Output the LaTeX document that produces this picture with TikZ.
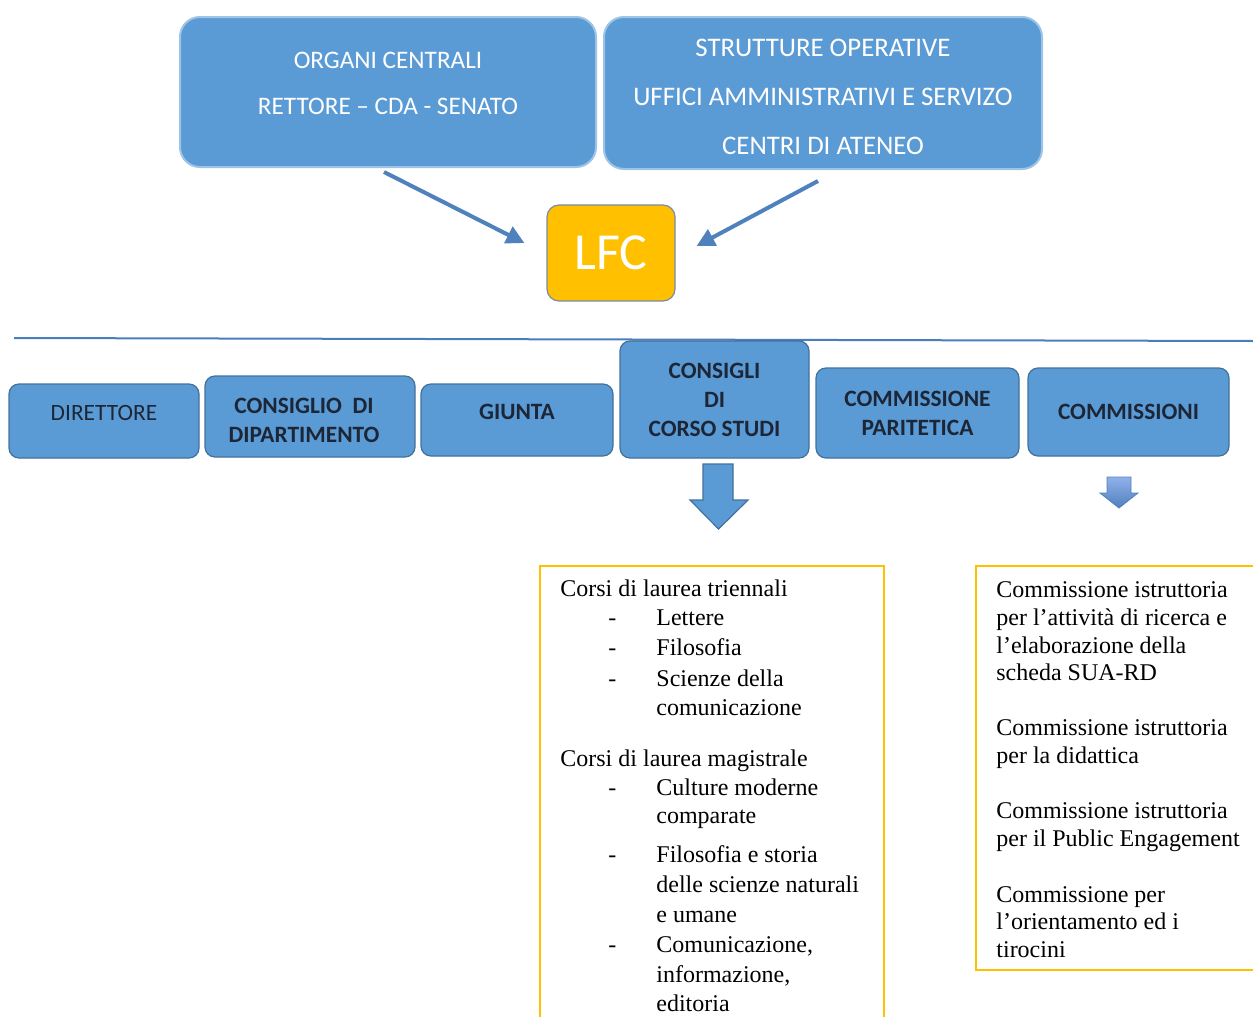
\documentclass[tikz,border=0pt]{standalone}
\usepackage{fontspec}
\setmainfont{Liberation Serif}
\newfontfamily\calibri{Carlito}
\usetikzlibrary{arrows.meta,calc}

\definecolor{boxblue}{HTML}{5B9BD5}
\definecolor{boxedge}{HTML}{41719C}
\definecolor{topedge}{HTML}{9DC3E6}
\definecolor{arrowblue}{HTML}{4F81BD}
\definecolor{lfcgold}{HTML}{FFC000}
\definecolor{lfcedge}{HTML}{7A8BA3}
\definecolor{darktext}{HTML}{1C2636}
\definecolor{lineblue}{HTML}{4A7EBB}

\tikzset{
  topbox/.style={draw=topedge, fill=boxblue, line width=1pt, rounded corners=10pt, inner sep=0pt},
  toptext/.style={text=white, inner sep=0pt, font=\calibri\fontsize{13.4}{16}\selectfont},
  unitbox/.style={draw=boxedge, fill=boxblue, line width=0.6pt, rounded corners=5pt, inner sep=0pt,
    align=center, text=darktext, font=\calibri\bfseries\fontsize{11.7}{14.5}\selectfont},
  linkarrow/.style={arrowblue, line width=2pt, -{Triangle[length=9pt,width=9pt]}},
  bodytext/.style={anchor=base west, inner sep=0pt, font=\fontsize{12}{13.8}\selectfont},
}

\begin{document}
\begin{tikzpicture}[x=0.5pt, y=-0.5pt]
    \useasboundingbox (0,0) rectangle (1253,1017);

    % organi centrali e strutture
    \node[topbox, minimum width=208pt, minimum height=75pt] (organi) at (388,92) {};
    \node[toptext, font=\calibri\fontsize{12.6}{16}\selectfont] (organi-1) at (388,60) {ORGANI CENTRALI};
    \node[toptext, font=\calibri\fontsize{12.6}{16}\selectfont] (organi-2) at (388,106) {RETTORE – CDA - SENATO};

    \node[topbox, minimum width=219pt, minimum height=76pt] (strutture) at (823,93) {};
    \node[toptext] (strutture-1) at (823,48) {STRUTTURE OPERATIVE};
    \node[toptext] (strutture-2) at (823,97) {UFFICI AMMINISTRATIVI E SERVIZO};
    \node[toptext] (strutture-3) at (823,146) {CENTRI DI ATENEO};

    \node[draw=lfcedge, fill=lfcgold, line width=0.6pt, rounded corners=6pt, minimum width=64pt, minimum height=48pt,
          text=white, font=\calibri\fontsize{26}{30}\selectfont] (lfc) at (611,253) {LFC};

    \draw[linkarrow] ($(organi.south)+(-4,4)$) -- ($(lfc.west)+(-22,-10)$);
    \draw[linkarrow] ($(strutture.south)+(-5,11)$) -- ($(lfc.east)+(21,-7)$);

    \draw[lineblue, line width=1pt] (14,338) -- (1253,341);

    % dipartimento
    \node[unitbox, minimum width=95pt, minimum height=37pt, text depth=8pt, font=\calibri\fontsize{11.7}{14.5}\selectfont] (direttore) at (104,421) {DIRETTORE};
    \node[unitbox, minimum width=105pt, minimum height=40.5pt] (consiglio) at (310,416.5) {};
    \node[unitbox, draw=none, fill=none] (consiglio-t) at (304,420.5) {CONSIGLIO\ \ DI\\DIPARTIMENTO};
    \node[unitbox, minimum width=96pt, minimum height=36pt, text depth=8pt] (giunta) at (517,420) {GIUNTA};
    \node[unitbox, minimum width=94.5pt, minimum height=58.5pt] (consigli) at (714.5,399.5) {CONSIGLI\\DI\\CORSO STUDI};
    \node[unitbox, minimum width=101.5pt, minimum height=45pt] (paritetica) at (917.5,413) {COMMISSIONE\\PARITETICA};
    \node[unitbox, minimum width=100.5pt, minimum height=44pt] (commissioni) at (1128.5,412) {COMMISSIONI};

    % frecce a blocco
    \draw[fill=boxblue, draw=boxedge, line width=0.6pt]
        (703,464) -- (733,464) -- (733,500) -- (748,500) -- (718.5,529) -- (690,500) -- (703,500) -- cycle;
    \shade[top color=blue!20!boxblue!60!white, bottom color=arrowblue, draw=arrowblue, line width=0.4pt]
        (1107,477) -- (1131,477) -- (1131,493) -- (1138,493) -- (1119,508) -- (1100,493) -- (1107,493) -- cycle;

    % riquadri di testo
    \draw[lfcgold, line width=0.6pt] (540,1025) -- (540,566) -- (884,566) -- (884,1025);
    \draw[lfcgold, line width=0.6pt] (1260,566) -- (976,566) -- (976,970) -- (1260,970);

    \foreach \y/\t [count=\i] in {596/Corsi di laurea triennali, 766/Corsi di laurea magistrale}
        \node[bodytext] (corsi-\i) at (560,\y) {\t};
    \foreach \y [count=\i] in {625,655,686,795,862,952}
        \node[bodytext] (trattino-\i) at (608,\y) {-};
    \foreach \y/\t [count=\i] in {625/Lettere, 655/Filosofia, 686/Scienze della, 715/comunicazione,
            795/Culture moderne, 823/comparate, 862/Filosofia e storia, 892/delle scienze naturali,
            922/e umane, 952/{Comunicazione,}, 982/{informazione,}, 1011/editoria}
        \node[bodytext] (corso-\i) at (656,\y) {\t};

    \foreach \y/\t [count=\i] in {597/Commissione istruttoria, 625/per l’attività di ricerca e,
            653/l’elaborazione della, 680/scheda SUA-RD, 735/Commissione istruttoria,
            763/per la didattica, 818/Commissione istruttoria, 846/per il Public Engagement,
            902/Commissione per, 929/l’orientamento ed i, 957/tirocini}
        \node[bodytext] (comm-\i) at (996,\y) {\t};
\end{tikzpicture}
\end{document}
